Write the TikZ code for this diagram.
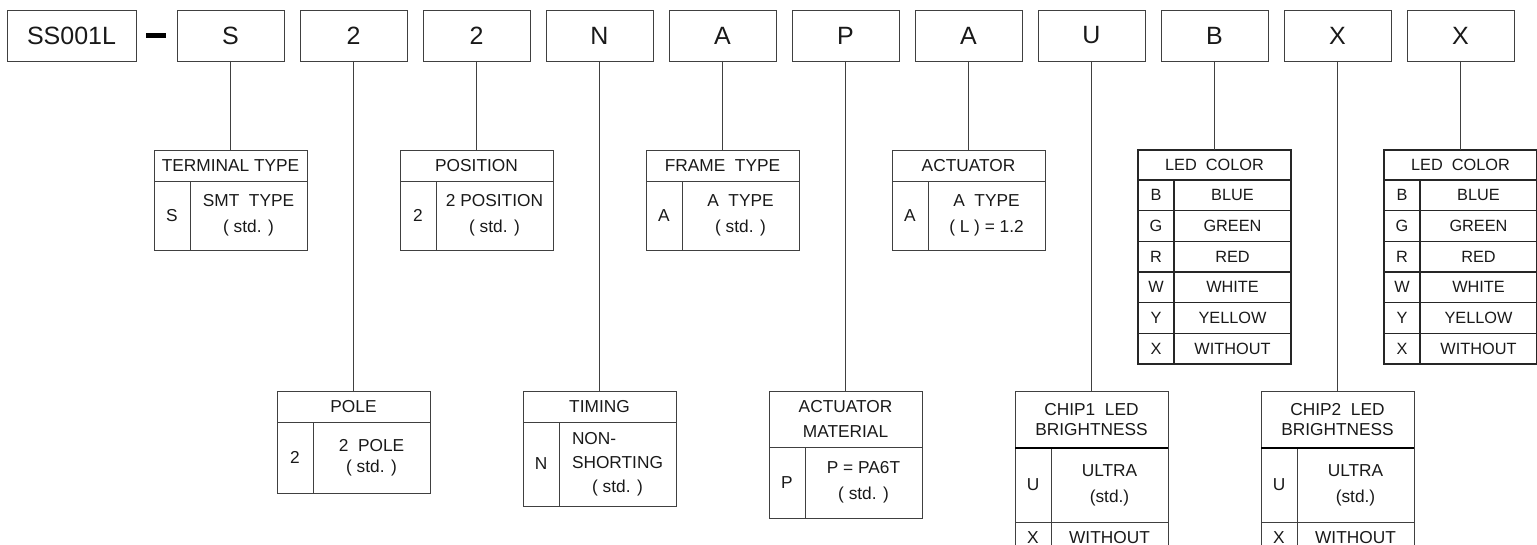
\documentclass[tikz,border=0pt]{standalone}
\usepackage{fontspec}
\setmainfont{Liberation Sans}
\usetikzlibrary{positioning}

\begin{document}
\begin{tikzpicture}[x=1pt, y=-1pt,
  tabline/.style={draw=black!75, line width=0.9pt, inner sep=0pt, outer sep=0pt, text=black!90},
  code/.style={tabline, minimum width=107, minimum height=51, font=\fontsize{25}{29}\selectfont},
  head/.style={tabline, minimum width=153, align=center, font=\fontsize{17.3}{20}\selectfont},
  key/.style={tabline, minimum width=36, font=\fontsize{17.3}{20}\selectfont},
  val/.style={tabline, minimum width=117, align=center, font=\fontsize{17.3}{26}\selectfont},
  ledrow/.style={draw=black!85, line width=1.3pt, minimum height=30.67, font=\fontsize{16.3}{20}\selectfont},
  wire/.style={draw=black!75, line width=0.9pt}]
\useasboundingbox (0,0) rectangle (1537,545);

% Part number
\node[code, minimum width=129] (pn) at (71.5,35.5) {SS001L};
\node[fill=black, minimum width=20, minimum height=5, inner sep=0pt] (dash) at (156,35.5) {};
\foreach \t [count=\i from 0] in {S,2,2,N,A,P,A,U,B,X,X}
  \node[code] (b\i) at (230.5+123*\i,35.5) {\t};

% Terminal type
\node[head, minimum height=31, anchor=north] (term) at (b0 |- 0,150) {TERMINAL TYPE};
\node[key, minimum height=69, anchor=north west] (termk) at (term.south west) {S};
\node[val, minimum height=69, anchor=north west] (termv) at (termk.north east) {SMT\ \ TYPE\\( std. )};

% Pole
\node[head, minimum height=31, anchor=north] (pole) at (b1 |- 0,391) {POLE};
\node[key, minimum height=71, anchor=north west] (polek) at (pole.south west) {2};
\node[val, minimum height=71, anchor=north west, font=\fontsize{17.3}{21}\selectfont] (polev) at (polek.north east) {2\ \ POLE\\( std. )};

% Position
\node[head, minimum height=31, anchor=north] (posn) at (b2 |- 0,150) {POSITION};
\node[key, minimum height=69, anchor=north west] (posnk) at (posn.south west) {2};
\node[val, minimum height=69, anchor=north west] (posnv) at (posnk.north east) {2 POSITION\\( std. )};

% Timing
\node[head, minimum height=31, anchor=north] (timing) at (b3 |- 0,391) {TIMING};
\node[key, minimum height=84, anchor=north west] (timingk) at (timing.south west) {N};
\node[val, minimum height=84, anchor=north west, font=\fontsize{17.3}{24}\selectfont] (timingv) at (timingk.north east) {\rlap{NON-}\phantom{SHORTING}\\SHORTING\\( std. )};

% Frame type
\node[head, minimum height=31, anchor=north] (frame) at (b4 |- 0,150) {FRAME\ \ TYPE};
\node[key, minimum height=69, anchor=north west] (framek) at (frame.south west) {A};
\node[val, minimum height=69, anchor=north west] (framev) at (framek.north east) {A\ \ TYPE\\( std. )};

% Actuator material
\node[head, minimum height=56, anchor=north, font=\fontsize{17.3}{25}\selectfont] (mat) at (b5 |- 0,391) {ACTUATOR\\MATERIAL};
\node[key, minimum height=71, anchor=north west] (matk) at (mat.south west) {P};
\node[val, minimum height=71, anchor=north west] (matv) at (matk.north east) {P = PA6T\\( std. )};

% Actuator
\node[head, minimum height=31, anchor=north] (act) at (b6 |- 0,150) {ACTUATOR};
\node[key, minimum height=69, anchor=north west] (actk) at (act.south west) {A};
\node[val, minimum height=69, anchor=north west] (actv) at (actk.north east) {A\ \ TYPE\\( L ) = 1.2};

% Chip1 brightness
\node[head, minimum height=57, anchor=north] (chipa) at (b7 |- 0,391) {CHIP1\ \ LED\\BRIGHTNESS};
\node[key, minimum height=74, anchor=north west] (chipak) at (chipa.south west) {U};
\node[val, minimum height=74, anchor=north west] (chipav) at (chipak.north east) {ULTRA\\(std.)};
\node[key, minimum height=31, anchor=north west] (chipax) at (chipak.south west) {X};
\node[val, minimum height=31, anchor=north west] (chipaxv) at (chipax.north east) {WITHOUT};
\draw[line width=1.5pt] (chipa.south west) -- (chipa.south east);

% Chip2 brightness
\node[head, minimum height=57, anchor=north] (chipb) at (b9 |- 0,391) {CHIP2\ \ LED\\BRIGHTNESS};
\node[key, minimum height=74, anchor=north west] (chipbk) at (chipb.south west) {U};
\node[val, minimum height=74, anchor=north west] (chipbv) at (chipbk.north east) {ULTRA\\(std.)};
\node[key, minimum height=31, anchor=north west] (chipbx) at (chipbk.south west) {X};
\node[val, minimum height=31, anchor=north west] (chipbxv) at (chipbx.north east) {WITHOUT};
\draw[line width=1.5pt] (chipb.south west) -- (chipb.south east);

% LED colour tables
\foreach \led/\b in {leda/b8, ledb/b10} {
  \node[head, ledrow, minimum height=30, anchor=north] (\led) at (\b |- 0,150) {LED\ \ COLOR};
  \foreach \ky/\nm [count=\r from 0] in {B/BLUE,G/GREEN,R/RED,W/WHITE,Y/YELLOW,X/WITHOUT} {
    \node[key, ledrow, anchor=north west] (\led k\r) at ([yshift={-30.67*\r}] \led.south west) {\ky};
    \node[val, ledrow, anchor=north west] (\led v\r) at (\led k\r.north east) {\nm};
  }
}

% Connectors
\draw[wire] (b0) -- (term);
\draw[wire] (b1) -- (pole);
\draw[wire] (b2) -- (posn);
\draw[wire] (b3) -- (timing);
\draw[wire] (b4) -- (frame);
\draw[wire] (b5) -- (mat);
\draw[wire] (b6) -- (act);
\draw[wire] (b7) -- (chipa);
\draw[wire] (b8) -- (leda);
\draw[wire] (b9) -- (chipb);
\draw[wire] (b10) -- (ledb);
\end{tikzpicture}
\end{document}
